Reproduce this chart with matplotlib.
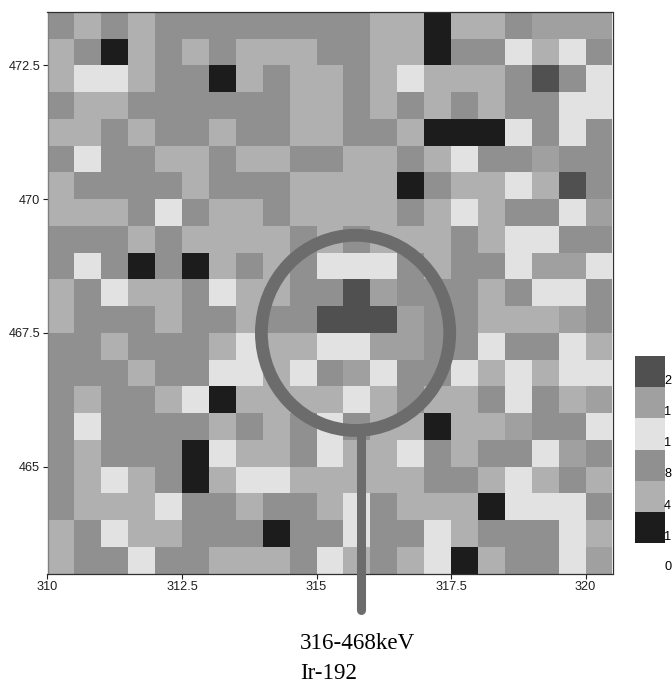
import numpy as np
import matplotlib
matplotlib.use('Agg')
import matplotlib.pyplot as plt
from matplotlib.colors import ListedColormap, BoundaryNorm
from matplotlib.patches import Ellipse

# one letter per cell, top row first
rows = [
    "MAMAMMMMMMMMAAKAAMNNN",
    "AMKAMAMAAAMMAAKMMLALM",
    "ALLAMMKAMAAMALAAAMDML",
    "MAAMMMMMMAAMAMAMAMMLL",
    "AAMAMMAMMAAMMAKKKLMLM",
    "MLMMAAMAAMMAAMALMMNMM",
    "AMMMMAMMMAAAAKMAALADM",
    "AAAMLMAAMAAAAMALAMMLN",
    "MMMAMAAAAMAMAAAMALLMM",
    "MLMKMKAMAMLLLMAMMLNNL",
    "AMLAAMLAAMMDNMMMAMLLM",
    "AMMMAMMAMMDDDNMMAAANM",
    "MMAMMMALAALLNNMMLMMLA",
    "MMMAMMLLALMNLMMLALALL",
    "MAMMALKAAAALAMAAMLMAN",
    "MLMMMMAMAMLMAAKAANMML",
    "MAMMMKLAAMLAALMAMMLNM",
    "MALAMKALLAAAAAMMALAMA",
    "MAAALMMAMMALMAAAKLLLM",
    "AMLAAMMMKMMLMMLAMMMLA",
    "AMMLMMAAAMLAMALKAMMLN",
]

# legend classes, lowest first
level_codes = ["K", "A", "M", "L", "N", "D"]
level_values = [1, 4, 8, 12, 16, 20]
level_colors = ["#1c1c1c", "#b0b0b0", "#909090", "#e2e2e2", "#a0a0a0", "#505050"]
legend_labels = ["1", "4", "8", "1", "1", "2"]
legend_zero = "0"

x_ticks = [310, 312.5, 315, 317.5, 320]
x_tick_labels = ["310", "312.5", "315", "317.5", "320"]
y_ticks = [465, 467.5, 470, 472.5]
y_tick_labels = ["465", "467.5", "470", "472.5"]

ring_x, ring_y = 315.725, 467.5
ring_w, ring_h = 3.50, 3.65
stem_x = 315.83
stem_top, stem_bottom = 465.7, 462.32
note_lines = ["316-468keV", "Ir-192"]

plt.rcParams['font.family'] = ['Liberation Sans']
W, H = 672, 684

code_to_value = dict(zip(level_codes, level_values))
grid = np.array([[code_to_value[c] for c in r] for r in rows])[::-1]

cmap = ListedColormap(level_colors)
norm = BoundaryNorm(level_values + [24], cmap.N)

fig = plt.figure(figsize=(W / 100, H / 100), dpi=100)
ax = fig.add_axes([47.5 / W, 1 - 573.5 / H, 565 / W, 561.5 / H])

xe = 310 + 0.5 * np.arange(grid.shape[1] + 1)
ye = 463 + 0.5 * np.arange(grid.shape[0] + 1)
ax.pcolormesh(xe, ye, grid, cmap=cmap, norm=norm, edgecolors='none')
ax.set_xlim(310, 320.5)
ax.set_ylim(463, 473.5)
ax.set_xticks(x_ticks, x_tick_labels)
ax.set_yticks(y_ticks, y_tick_labels)
ax.tick_params(length=3.8, width=0.8, pad=1.5, labelsize=9.2, colors='#202020')
for name in ['top', 'right', 'bottom']:
    ax.spines[name].set_color('#303030')
    ax.spines[name].set_linewidth(0.9)
ax.spines['left'].set_color('#808080')
ax.spines['left'].set_linewidth(1.0)

# ring and stem on top of the map
ax.add_patch(Ellipse((ring_x, ring_y), ring_w, ring_h, fill=False,
                     edgecolor='#6c6c6c', linewidth=9.2, clip_on=False, zorder=5))
ax.plot([stem_x, stem_x], [stem_top, stem_bottom], color='#6c6c6c', linewidth=6.5,
        solid_capstyle='round', clip_on=False, zorder=5)

for line, y_px in zip(note_lines, [649, 679]):
    fig.text(300 / W, 1 - y_px / H, line, family='Liberation Serif', fontsize=16.6,
             ha='left', va='baseline', color='black')

# stepped legend
lax = fig.add_axes([635 / W, 1 - 543 / H, 30 / W, 187 / H])
lax.pcolormesh([0, 1], np.arange(len(level_values) + 1), np.array(level_values)[:, None],
               cmap=cmap, norm=norm, edgecolors='none')
lax.set_xlim(0, 1)
lax.set_ylim(0, len(level_values))
lax.axis('off')
for i, lab in enumerate(legend_labels):
    lax.text(0.97, i + 0.2, lab, fontsize=9.2, ha='left', va='center', clip_on=False)
lax.text(0.97, -0.78, legend_zero, fontsize=9.2, ha='left', va='center', clip_on=False)

fig.savefig('out.png', dpi=100)
